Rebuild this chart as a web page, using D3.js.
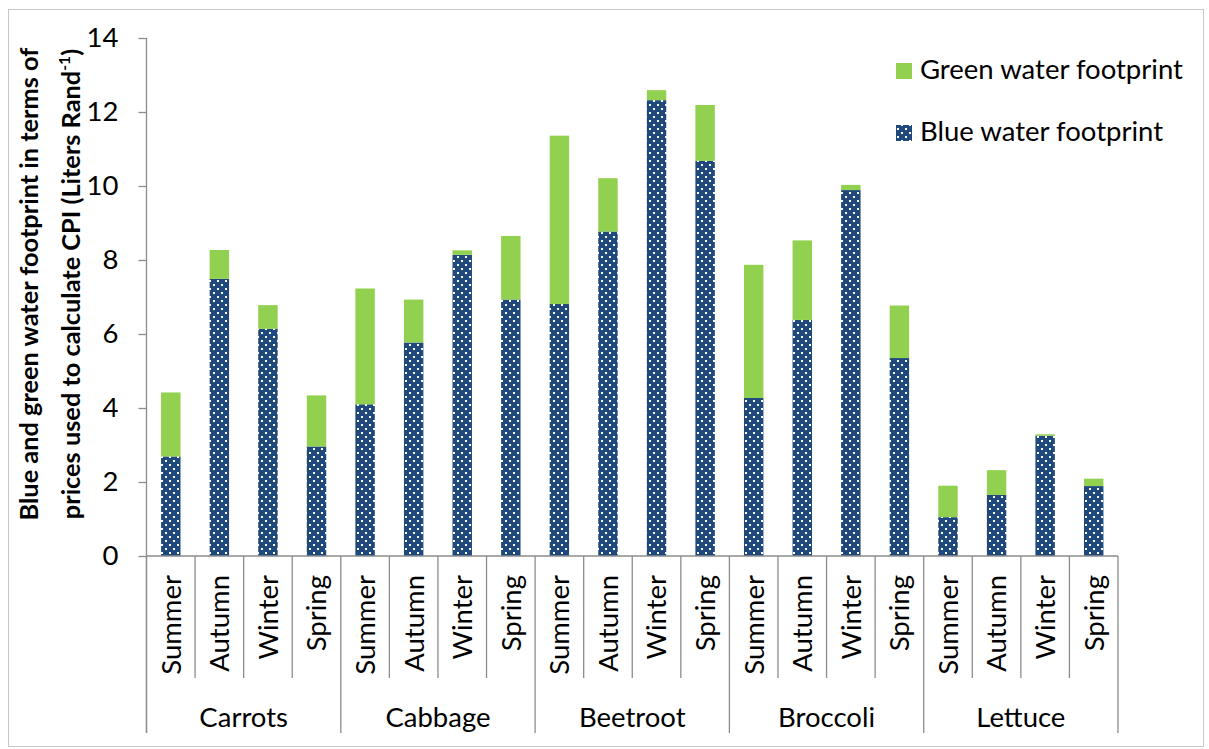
<!DOCTYPE html>
<html><head><meta charset="utf-8">
<script src="https://cdn.jsdelivr.net/npm/d3@7"></script>
<style>body{margin:0;background:#fff} text{font-family:Lato,"Open Sans",sans-serif;fill:#000}</style>
</head><body><svg id="c" width="1209" height="749"></svg>
<script>
const vegetables = ["Carrots","Cabbage","Beetroot","Broccoli","Lettuce"];
const seasons = ["Summer","Autumn","Winter","Spring"];
const blueWater = [2.69,7.49,6.14,2.96, 4.10,5.77,8.14,6.93, 6.81,8.77,12.32,10.68, 4.27,6.38,9.89,5.35, 1.05,1.65,3.25,1.89];
const greenWater = [1.73,0.78,0.64,1.38, 3.13,1.16,0.12,1.72, 4.55,1.44,0.27,1.51, 3.60,2.15,0.14,1.42, 0.85,0.67,0.04,0.20];
const yTicks = [0,2,4,6,8,10,12,14];
const seriesNames = ["Green water footprint","Blue water footprint"];

const BLUE = "#1F497D", GREEN = "#92D050", AXIS = "#8c8c8c";
const svg = d3.select("#c");

// measure-based font sizing (match reference text widths)
function fitSize(str, target, weight) {
  const t = svg.append("text").attr("font-size", 100).attr("font-weight", weight || "normal").text(str);
  const w = t.node().getComputedTextLength();
  t.remove();
  return 100 * target / w;
}
const fs = fitSize("Green water footprint", 263);
const fsTitle = fitSize("Blue and green water footprint in terms of", 473, "bold");

// pattern
const defs = svg.append("defs");
const pat = defs.append("pattern").attr("id","dots").attr("patternUnits","userSpaceOnUse")
  .attr("width",8).attr("height",8).attr("x",1).attr("y",0);
pat.append("rect").attr("width",8).attr("height",8).attr("fill",BLUE);
pat.append("rect").attr("x",0).attr("y",0).attr("width",2).attr("height",2).attr("fill","#fff");
pat.append("rect").attr("x",4).attr("y",4).attr("width",2).attr("height",2).attr("fill","#fff");

// outer border
svg.append("rect").attr("x",8.5).attr("y",9.5).attr("width",1195).attr("height",737)
  .attr("fill","none").attr("stroke","#c8c8c8").attr("stroke-width",1);

const rows = [];
vegetables.forEach((v,gi)=>seasons.forEach((s,si)=>{
  const i = gi*seasons.length+si;
  rows.push({key:v+"|"+s, veg:v, season:s, blue:blueWater[i], green:greenWater[i]});
}));

const x0 = 146.5, x1 = 1118;
const x = d3.scaleBand().domain(rows.map(d=>d.key)).range([x0,x1]).paddingInner(0.6).paddingOuter(0.3);
const y = d3.scaleLinear().domain([0,14]).range([556,38]);

const stack = d3.stack().keys(["blue","green"])(rows);
const fills = {blue:"url(#dots)", green:GREEN};
svg.append("g").selectAll("g").data(stack).join("g")
  .attr("fill", d=>fills[d.key])
  .selectAll("rect").data(d=>d).join("rect")
  .attr("x", d=>x(d.data.key)).attr("width", x.bandwidth())
  .attr("y", d=>y(d[1])).attr("height", d=>y(d[0])-y(d[1]));

// y axis
const ya = svg.append("g").attr("transform",`translate(${x0},0)`)
  .call(d3.axisLeft(y).tickValues(yTicks).tickSize(8).tickPadding(20).tickFormat(d3.format("d")));
ya.select(".domain").attr("stroke",AXIS).attr("stroke-width",1.3).attr("d",`M0,${y(14)}V733`);
ya.selectAll(".tick line").attr("stroke",AXIS).attr("stroke-width",1.3);
ya.selectAll(".tick text").attr("font-size",fs).attr("font-family","Lato").attr("fill","#000");

// x axis baseline & dividers
const step = x.step();
svg.append("line").attr("x1",x0).attr("x2",x1).attr("y1",y(0)).attr("y2",y(0))
  .attr("stroke",AXIS).attr("stroke-width",1.3);
const bounds = d3.range(rows.length+1);
svg.append("g").selectAll("line").data(bounds).join("line")
  .attr("x1",i=>x0+i*step).attr("x2",i=>x0+i*step)
  .attr("y1",y(0)).attr("y2",i=> i%seasons.length===0 ? 733 : 678)
  .attr("stroke",AXIS).attr("stroke-width",1.3);

// season labels
svg.append("g").selectAll("text").data(rows).join("text")
  .attr("transform",d=>`translate(${x(d.key)+x.bandwidth()/2},575) rotate(-90)`)
  .attr("text-anchor","end").attr("dy","0.36em").attr("font-size",fs).text(d=>d.season);

// group labels
svg.append("g").selectAll("text").data(vegetables).join("text")
  .attr("x",(d,i)=>x0+(i+0.5)*seasons.length*step).attr("y",727)
  .attr("text-anchor","middle").attr("font-size",fs).text(d=>d);

// y title
const tg = svg.append("g").attr("transform","translate(0,284) rotate(-90)");
tg.append("text").attr("x",0).attr("y",38).attr("text-anchor","middle")
  .attr("font-weight","bold").attr("font-size",fsTitle).text("Blue and green water footprint in terms of");
const t2 = tg.append("text").attr("x",0).attr("y",80).attr("text-anchor","middle")
  .attr("font-weight","bold").attr("font-size",fsTitle);
t2.append("tspan").text("prices used to calculate CPI (Liters Rand");
t2.append("tspan").attr("font-size",fsTitle*0.62).attr("dy",-fsTitle*0.38).text("-1");
t2.append("tspan").attr("dy",fsTitle*0.38).text(")");

// legend
const lg = svg.append("g");
const legItems = [{name:seriesNames[0], fill:GREEN, y:63},{name:seriesNames[1], fill:"url(#dots)", y:125}];
lg.selectAll("rect").data(legItems).join("rect")
  .attr("x",896).attr("y",d=>d.y).attr("width",16).attr("height",16).attr("fill",d=>d.fill);
lg.selectAll("text").data(legItems).join("text")
  .attr("x",920).attr("y",d=>d.y+16).attr("font-size",fs).text(d=>d.name);
</script></body></html>
